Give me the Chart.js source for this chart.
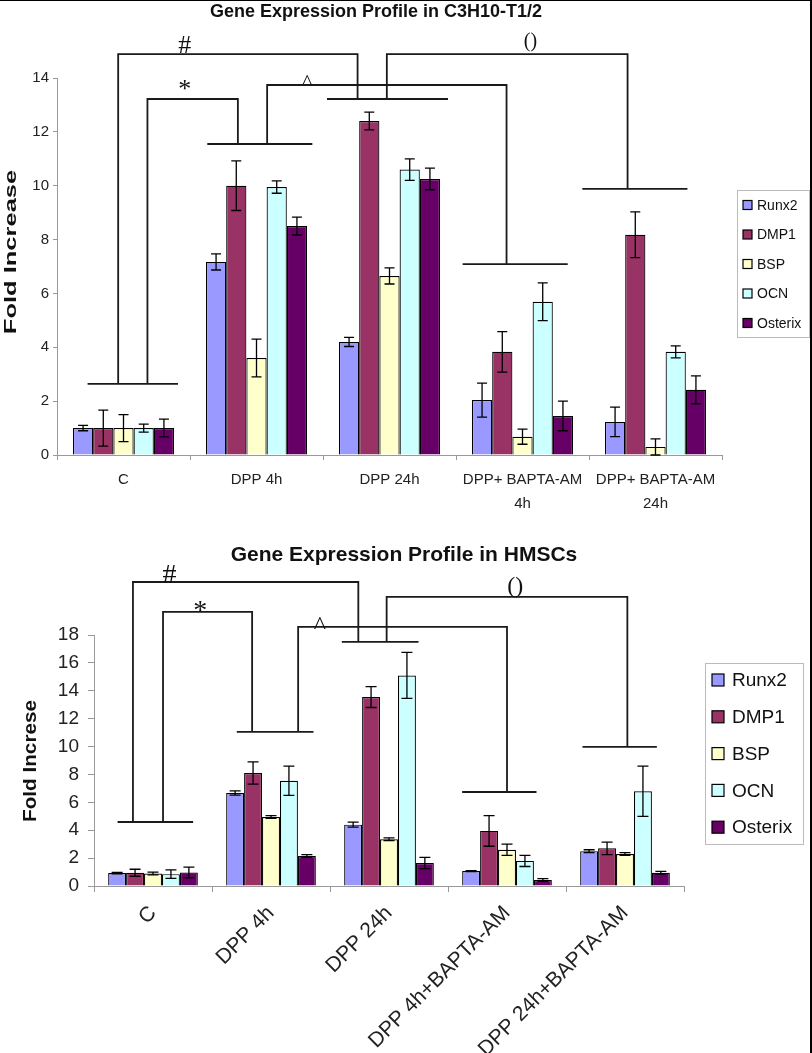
<!DOCTYPE html>
<html>
<head>
<meta charset="utf-8">
<script src="https://cdn.jsdelivr.net/npm/chart.js@4"></script>
<style>
  html, body { margin: 0; padding: 0; background: #fff; }
  #frame { position: relative; width: 812px; height: 1053px; overflow: hidden; background: #fff; }
  #topChart { position: absolute; left: 0; top: 0; }
  #bottomChart { position: absolute; left: 0; top: 520px; }
  .edge { position: absolute; background: #000; }
</style>
</head>
<body>
<div id="frame">
  <canvas id="topChart" width="812" height="520"></canvas>
  <canvas id="bottomChart" width="812" height="533"></canvas>
  <div class="edge" style="left:0;top:0;width:812px;height:1px"></div>
  <div class="edge" style="left:810px;top:0;width:2px;height:1053px"></div>
</div>
<script>
// ===============================
// DATA
// ===============================
const genes = ['Runx2', 'DMP1', 'BSP', 'OCN', 'Osterix'];
const geneColors = ['#9999FF', '#993366', '#FFFFCC', '#CCFFFF', '#660066'];

// C3H10-T1/2
const topCategories = ['C', 'DPP 4h', 'DPP 24h', ['DPP+ BAPTA-AM', '4h'], ['DPP+ BAPTA-AM', '24h']];
const topRunx2 = [1.0, 7.17, 4.2, 2.04, 1.23];
const topDmp1 = [1.0, 10.0, 12.4, 3.83, 8.18];
const topBsp = [1.0, 3.6, 6.65, 0.68, 0.3];
const topOcn = [1.0, 9.95, 10.6, 5.69, 3.83];
const topOsterix = [1.0, 8.5, 10.25, 1.45, 2.42];
const topRunx2Err = [0.1, 0.3, 0.17, 0.63, 0.55];
const topDmp1Err = [0.67, 0.92, 0.33, 0.75, 0.85];
const topBspErr = [0.5, 0.7, 0.3, 0.28, 0.3];
const topOcnErr = [0.15, 0.23, 0.4, 0.7, 0.22];
const topOsterixErr = [0.33, 0.33, 0.4, 0.55, 0.52];

// HMSCs
const bottomCategories = ['C', 'DPP 4h', 'DPP 24h', 'DPP 4h+BAPTA-AM', 'DPP 24h+BAPTA-AM'];
const bottomRunx2 = [0.93, 6.67, 4.4, 1.07, 2.5];
const bottomDmp1 = [0.95, 8.1, 13.55, 3.95, 2.7];
const bottomBsp = [0.9, 4.95, 3.35, 2.6, 2.3];
const bottomOcn = [0.85, 7.55, 15.1, 1.8, 6.8];
const bottomOsterix = [0.97, 2.15, 1.65, 0.43, 0.95];
const bottomRunx2Err = [0.05, 0.15, 0.18, 0.03, 0.1];
const bottomDmp1Err = [0.25, 0.8, 0.75, 1.1, 0.45];
const bottomBspErr = [0.1, 0.1, 0.1, 0.4, 0.1];
const bottomOcnErr = [0.3, 1.05, 1.65, 0.4, 1.8];
const bottomOsterixErr = [0.38, 0.1, 0.4, 0.1, 0.1];

// significance brackets: [category position, fold value] points
const topBrackets = [
  [[-0.27, 2.64], [0.41, 2.64]],
  [[-0.04, 2.64], [-0.04, 14.89], [1.76, 14.89], [1.76, 13.22]],
  [[0.18, 2.64], [0.18, 13.22], [0.86, 13.22], [0.86, 11.55]],
  [[0.63, 11.55], [1.42, 11.55]],
  [[1.53, 13.22], [2.44, 13.22]],
  [[1.08, 11.55], [1.08, 13.74], [2.88, 13.74], [2.88, 7.09]],
  [[2.55, 7.09], [3.34, 7.09]],
  [[1.98, 13.22], [1.98, 14.89], [3.79, 14.89], [3.79, 9.88]],
  [[3.45, 9.88], [4.24, 9.88]]
];
// [symbol, category position, baseline value, font px]
const topMarks = [['#', 0.46, 14.93, 26], ['*', 0.46, 13.29, 26], ['^', 1.38, 13.58, 22], ['()', 3.06, 15.15, 20]];

const bottomBrackets = [
  [[-0.3, 4.59], [0.34, 4.59]],
  [[-0.17, 4.59], [-0.17, 21.8], [1.74, 21.8], [1.74, 17.5]],
  [[0.085, 4.59], [0.085, 19.66], [0.84, 19.66], [0.84, 11.05]],
  [[0.71, 11.05], [1.36, 11.05]],
  [[1.6, 17.5], [2.25, 17.5]],
  [[1.23, 11.05], [1.23, 18.58], [3.0, 18.58], [3.0, 6.74]],
  [[2.62, 6.74], [3.25, 6.74]],
  [[1.98, 17.5], [1.98, 20.73], [4.02, 20.73], [4.02, 9.97]],
  [[3.64, 9.97], [4.27, 9.97]]
];
const bottomMarks = [['#', 0.14, 21.74, 28], ['*', 0.4, 19.15, 28], ['^', 1.415, 18.08, 26], ['()', 3.07, 21.0, 24]];

const SANS = "'Liberation Sans', Arial, sans-serif";
const SERIF = "'Liberation Serif', 'Times New Roman', serif";

// ===============================
// PLUGINS
// ===============================
function decorPlugin(cfg) {
  return {
    id: 'decor',
    afterDatasetsDraw(chart) {
      const ctx = chart.ctx;
      const y = chart.scales.y;
      ctx.save();
      ctx.strokeStyle = '#000';
      ctx.lineWidth = 1.3;
      chart.data.datasets.forEach((ds, i) => {
        chart.getDatasetMeta(i).data.forEach((bar, j) => {
          const v = ds.data[j];
          const e = cfg.errors[i][j];
          const yHi = y.getPixelForValue(v + e);
          const yLo = y.getPixelForValue(Math.max(0, v - e));
          const h = cfg.capWidth / 2;
          ctx.beginPath();
          ctx.moveTo(bar.x, yHi); ctx.lineTo(bar.x, yLo);
          ctx.moveTo(bar.x - h, yHi); ctx.lineTo(bar.x + h, yHi);
          ctx.moveTo(bar.x - h, yLo); ctx.lineTo(bar.x + h, yLo);
          ctx.stroke();
        });
      });
      ctx.restore();
    },
    afterDraw(chart) {
      const ctx = chart.ctx;
      const x = chart.scales.x;
      const y = chart.scales.y;
      ctx.save();

      // brackets
      ctx.strokeStyle = '#1a1a1a';
      ctx.lineWidth = 1.8;
      cfg.brackets.forEach(pts => {
        ctx.beginPath();
        pts.forEach(([px, py], k) => {
          const cx = x.getPixelForValue(px);
          const cy = y.getPixelForValue(py);
          if (k === 0) ctx.moveTo(cx, cy); else ctx.lineTo(cx, cy);
        });
        ctx.stroke();
      });

      ctx.fillStyle = '#111';
      ctx.textAlign = 'center';
      ctx.textBaseline = 'alphabetic';
      cfg.marks.forEach(([t, px, py, size]) => {
        ctx.font = size + 'px ' + SERIF;
        ctx.fillText(t, x.getPixelForValue(px), y.getPixelForValue(py));
      });

      // title
      ctx.textBaseline = 'middle';
      ctx.font = cfg.titleFont;
      ctx.fillText(cfg.title, cfg.titleX, cfg.titleY);

      // y axis title
      ctx.save();
      ctx.translate(cfg.yTitleX, cfg.yTitleY);
      ctx.rotate(-Math.PI / 2);
      ctx.scale(cfg.yTitleStretch, 1);
      ctx.font = cfg.yTitleFont;
      ctx.fillText(cfg.yTitle, 0, 0);
      ctx.restore();

      // legend
      const lg = cfg.legend;
      ctx.strokeStyle = '#bbb';
      ctx.lineWidth = 1;
      ctx.strokeRect(lg.x + 0.5, lg.y + 0.5, lg.w, lg.h);
      ctx.textAlign = 'left';
      ctx.font = lg.font;
      chart.data.datasets.forEach((ds, i) => {
        const cy = lg.firstY + i * lg.step;
        ctx.fillStyle = ds.backgroundColor;
        ctx.fillRect(lg.swatchX, cy - lg.swatch / 2, lg.swatch, lg.swatch);
        ctx.strokeStyle = '#000';
        ctx.lineWidth = 1.2;
        ctx.strokeRect(lg.swatchX, cy - lg.swatch / 2, lg.swatch, lg.swatch);
        ctx.fillStyle = '#111';
        ctx.fillText(ds.label, lg.textX, cy + 1);
      });
      ctx.restore();
    }
  };
}

// ===============================
// CHART BUILDER
// ===============================
function buildChart(id, categories, series, cfg) {
  return new Chart(document.getElementById(id).getContext('2d'), {
    type: 'bar',
    data: {
      labels: categories,
      datasets: series.map((vals, i) => ({
        label: genes[i],
        data: vals,
        backgroundColor: geneColors[i],
        borderColor: '#000',
        borderWidth: 1.2
      }))
    },
    options: {
      responsive: false,
      animation: false,
      devicePixelRatio: 1,
      layout: { padding: { top: cfg.padTop, right: cfg.padRight, left: 0, bottom: 0 } },
      datasets: { bar: { categoryPercentage: 0.76, barPercentage: 1 } },
      plugins: {
        legend: { display: false },
        title: { display: false },
        tooltip: { enabled: false }
      },
      scales: {
        x: {
          offset: true,
          grid: { drawOnChartArea: false, tickLength: cfg.xTick, color: '#999', offset: true },
          border: { color: '#999' },
          ticks: {
            color: '#222',
            autoSkip: false,
            padding: cfg.xPad,
            minRotation: cfg.rotation,
            maxRotation: cfg.rotation,
            font: { family: SANS, size: cfg.xFont, lineHeight: 1.6 }
          },
          afterFit: s => { s.height = cfg.xHeight; }
        },
        y: {
          min: 0,
          max: cfg.yMax,
          grid: { drawOnChartArea: false, tickLength: cfg.yTick, color: '#999' },
          border: { color: '#999' },
          ticks: {
            stepSize: 2,
            color: '#222',
            padding: cfg.yPad,
            font: { family: SANS, size: cfg.yFont }
          },
          afterFit: s => { s.width = cfg.yWidth; }
        }
      }
    },
    plugins: [decorPlugin(cfg)]
  });
}

buildChart('topChart', topCategories,
  [topRunx2, topDmp1, topBsp, topOcn, topOsterix],
  {
    errors: [topRunx2Err, topDmp1Err, topBspErr, topOcnErr, topOsterixErr],
    capWidth: 10,
    brackets: topBrackets,
    marks: topMarks,
    title: 'Gene Expression Profile in C3H10-T1/2',
    titleFont: 'bold 18px ' + SANS,
    titleX: 376, titleY: 12,
    yTitle: 'Fold Increase',
    yTitleFont: 'bold 17px ' + SANS,
    yTitleX: 11, yTitleY: 252, yTitleStretch: 1.5,
    legend: { x: 737, y: 190, w: 72, h: 147, firstY: 205, step: 29.5, swatch: 9, swatchX: 743, textX: 757, font: '14px ' + SANS },
    padTop: 78, padRight: 90,
    yWidth: 57, xHeight: 65, yMax: 14,
    xTick: 5, xPad: 8, xFont: 15, rotation: 0,
    yTick: 4, yPad: 4, yFont: 15
  });

buildChart('bottomChart', bottomCategories,
  [bottomRunx2, bottomDmp1, bottomBsp, bottomOcn, bottomOsterix],
  {
    errors: [bottomRunx2Err, bottomDmp1Err, bottomBspErr, bottomOcnErr, bottomOsterixErr],
    capWidth: 11,
    brackets: bottomBrackets,
    marks: bottomMarks,
    title: 'Gene Expression Profile in HMSCs',
    titleFont: 'bold 21px ' + SANS,
    titleX: 404, titleY: 35,
    yTitle: 'Fold Increse',
    yTitleFont: 'bold 18px ' + SANS,
    yTitleX: 31, yTitleY: 241, yTitleStretch: 1.15,
    legend: { x: 705, y: 143, w: 98, h: 181, firstY: 160, step: 36.8, swatch: 12, swatchX: 712, textX: 732, font: '19px ' + SANS },
    padTop: 115, padRight: 128,
    yWidth: 94, xHeight: 167, yMax: 18,
    xTick: 6, xPad: 6, xFont: 21, rotation: 45,
    yTick: 6, yPad: 9, yFont: 19
  });
</script>
</body>
</html>
